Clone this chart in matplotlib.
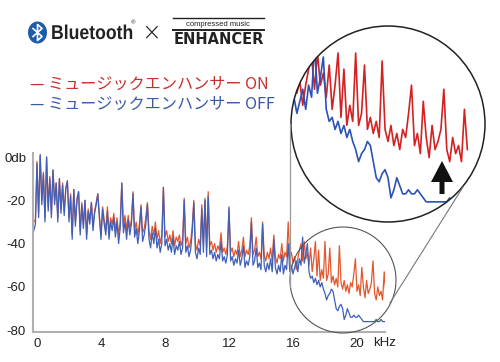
import numpy as np
import matplotlib
matplotlib.use("Agg")
import matplotlib.pyplot as plt
from matplotlib.patches import Circle, Ellipse, Polygon, PathPatch
from matplotlib.lines import Line2D
from matplotlib.textpath import TextPath
from matplotlib.font_manager import FontProperties
from matplotlib.transforms import Affine2D, IdentityTransform

plt.rcParams['font.family'] = ['Liberation Sans', 'Noto Sans CJK JP', 'DejaVu Sans']

# frequency grid (kHz), 0.1 kHz steps from -0.2 to 21.8
freq = np.round(np.arange(-0.2, 21.85, 0.1), 1)

# ミュージックエンハンサー ON (dB)
db_on = [-30, -29,
    -2, -26, 1, -20, -7, -28, 0, -23, -9, -26,
    -6, -20, -12, -28, -10, -24, -12, -25, -14, -11,
    -28, -17, -36, -15, -30, -19, -16, -34, -21, -31,
    -20, -36, -24, -29, -21, -32, -25, -21, -17, -27,
    -36, -23, -29, -34, -23, -35, -28, -31, -26, -34,
    -28, -36, -30, -12, -32, -27, -34, -27, -33, -29,
    -16, -34, -30, -36, -31, -22, -35, -33, -28, -21,
    -34, -38, -32, -36, -30, -38, -34, -40, -36, -14,
    -37, -34, -39, -36, -40, -34, -41, -37, -39, -36,
    -41, -38, -19, -40, -37, -42, -39, -32, -20, -40,
    -43, -38, -41, -22, -40, -19, -42, -16, -41, -39,
    -43, -40, -44, -41, -43, -35, -44, -42, -45, -41,
    -24, -44, -42, -46, -43, -45, -39, -46, -43, -37,
    -46, -43, -45, -41, -28, -45, -43, -37, -46, -44,
    -47, -30, -45, -48, -44, -47, -42, -48, -36, -46,
    -49, -45, -47, -40, -48, -44, -46, -30, -47, -44,
    -49, -46, -52, -47, -43, -40, -48, -39, -47, -44,
    -50, -42, -53, -47, -39, -55, -43, -57, -52, -56,
    -39, -57, -54, -42, -58, -55, -59, -56, -60, -41,
    -58, -61, -57, -62, -59, -63, -58, -60, -54, -47,
    -62, -59, -64, -51, -60, -65, -57, -63, -61, -58,
    -48, -63, -66, -60, -64, -62, -66, -53, -63]

# ミュージックエンハンサー OFF (dB)
db_off = [-34, -31,
    -3, -28, 1, -22, -8, -30, 0, -25, -10, -28,
    -6, -22, -12, -30, -10, -26, -13, -27, -15, -11,
    -30, -18, -38, -15, -32, -20, -16, -36, -22, -33,
    -20, -38, -25, -31, -21, -34, -26, -22, -17, -28,
    -38, -24, -31, -36, -25, -38, -30, -34, -28, -37,
    -30, -40, -33, -12, -35, -30, -38, -29, -36, -31,
    -17, -37, -33, -40, -34, -23, -39, -36, -31, -22,
    -38, -42, -35, -40, -33, -42, -38, -44, -40, -14,
    -41, -38, -43, -40, -44, -37, -45, -41, -43, -39,
    -45, -42, -20, -44, -41, -46, -43, -35, -21, -44,
    -47, -42, -45, -24, -44, -20, -46, -18, -45, -43,
    -47, -44, -48, -45, -47, -39, -48, -46, -49, -45,
    -23, -48, -46, -50, -47, -49, -43, -50, -47, -41,
    -51, -48, -50, -46, -30, -50, -48, -42, -51, -49,
    -52, -31, -50, -53, -49, -52, -47, -53, -38, -51,
    -54, -50, -53, -45, -54, -50, -52, -40, -53, -50,
    -54, -51, -48, -53, -47, -50, -37, -49, -45, -40,
    -53, -56, -55, -58, -56, -59, -57, -60, -58, -61,
    -63, -66, -64, -63, -61, -62, -66, -70, -71, -69,
    -68, -70, -75, -73, -70, -72, -74, -74, -73, -74,
    -74, -73, -74, -75, -76, -76, -76, -76, -76, -76,
    -76, -76, -75, -76, -76, -75, -76, -76, -76]

xticks = [0, 4, 8, 12, 16, 20]
yticks = [0, -20, -40, -60, -80]
ylabels = ['0db', '-20', '-40', '-60', '-80']

W, H = 500, 362
def px(x, y):
    return (x / W, 1 - y / H)

fig = plt.figure(figsize=(5, 3.62), dpi=100)

# main chart
ax = fig.add_axes([33 / W, 1 - 332 / H, (385 - 33) / W, (332 - 153) / H])
ax.plot(freq, db_on, color='#e2572e', lw=0.9)
ax.plot(freq, db_off, color='#3f5fb8', lw=0.9)
ax.set_xlim(-0.25, 21.75)
ax.set_ylim(-80.8, 1.85)
ax.set_xticks(xticks)
ax.set_yticks(yticks)
ax.set_yticklabels(ylabels)
ax.tick_params(length=0, labelsize=9.5, colors='#222222')
ax.tick_params(axis='y', pad=5)
ax.tick_params(axis='x', pad=4)
for s in ['top', 'right']:
    ax.spines[s].set_visible(False)
for s in ['left', 'bottom']:
    ax.spines[s].set_color('#b0b0b0')
    ax.spines[s].set_linewidth(1.5)
fig.text(385 / W, 1 - 343 / H, 'kHz', ha='center', va='center', fontsize=9.5, color='#222222')

# small circle and connecting lines
fig.add_artist(Ellipse(px(343, 280), 106 / W, 106 / H, fill=False, ec='#555555', lw=0.8, transform=fig.transFigure))
fig.add_artist(Line2D([290 / W, 290 / W], [1 - 124 / H, 1 - 287 / H], color='#999999', lw=0.9, transform=fig.transFigure))
fig.add_artist(Line2D([390 / W, 463 / W], [1 - 303 / H, 1 - 187 / H], color='#777777', lw=0.8, transform=fig.transFigure))

# magnified inset
ax2 = fig.add_axes([291 / W, 1 - 222 / H, 194 / W, 196 / H])
ax2.set_xlim(15.8, 22.4)
ax2.set_ylim(-81, -32.3)
ax2.axis('off')
clip = Circle((0.5, 0.5), 0.5, transform=ax2.transAxes, fc='white', ec='none')
ax2.add_patch(clip)
l1, = ax2.plot(freq, db_on, color='#d42222', lw=1.2)
l2, = ax2.plot(freq, db_off, color='#2c52b8', lw=1.2)
l1.set_clip_path(clip)
l2.set_clip_path(clip)
fig.add_artist(Ellipse(px(388, 124), 194 / W, 196 / H, fill=False, ec='#222222', lw=1.1, transform=fig.transFigure))

# arrow
arrow_pts = [px(442, 161), px(453, 182), px(444.5, 182), px(444.5, 194),
             px(439.5, 194), px(439.5, 182), px(431, 182)]
fig.add_artist(Polygon(arrow_pts, closed=True, fc='#111111', ec='none', transform=fig.transFigure))

# legend text
jp = ['Noto Sans CJK JP', 'DejaVu Sans']
fig.text(30 / W, 1 - 84 / H, '— ミュージックエンハンサー ON', fontsize=11.6, color='#c9302c',
         va='center', ha='left', family=jp)
fig.text(30 / W, 1 - 104 / H, '— ミュージックエンハンサー OFF', fontsize=11.6, color='#3a5aa8',
         va='center', ha='left', family=jp)

# logos
fig.add_artist(Ellipse(px(37.5, 32.5), 19 / W, 22 / H, fc='#1d5bab', ec='none', transform=fig.transFigure))
rune = [px(33, 28.5), px(42, 36.5), px(37.5, 40.5), px(37.5, 24.5), px(42, 28.5), px(33, 36.5)]
fig.add_artist(Line2D([p[0] for p in rune], [p[1] for p in rune], color='white', lw=1.2,
                      transform=fig.transFigure))
# condensed "Bluetooth" word mark
bt = TextPath((0, 0), 'Bluetooth', size=20, prop=FontProperties(family='Liberation Sans', weight='bold'))
bt_w = bt.get_extents().width
sx = 80 / bt_w
bt_tr = Affine2D().scale(sx, 1.0).translate(51, H - 39)
fig.add_artist(PathPatch(bt, fc='#222222', ec='none', transform=bt_tr + IdentityTransform()))
fig.text(131 / W, 1 - 23 / H, '®', fontsize=4.5, color='#222222', va='center', ha='left')
fig.text(151 / W, 1 - 32 / H, '×', fontsize=17, color='#222222', va='center', ha='center',
         family=['DejaVu Sans'], fontweight='light')
for yy, lw in [(18, 1.0), (30, 1.4)]:
    fig.add_artist(Line2D([173 / W, 264 / W], [1 - yy / H, 1 - yy / H], color='#222222', lw=lw,
                          transform=fig.transFigure))
fig.text(218 / W, 1 - 24 / H, 'compressed music', fontsize=5.5, color='#222222', va='center',
         ha='center')
fig.text(219 / W, 1 - 39 / H, 'ENHANCER', fontsize=10.5, fontweight='bold', color='#222222',
         va='center', ha='center', family=['DejaVu Sans'])

fig.savefig('out.png', dpi=100)
